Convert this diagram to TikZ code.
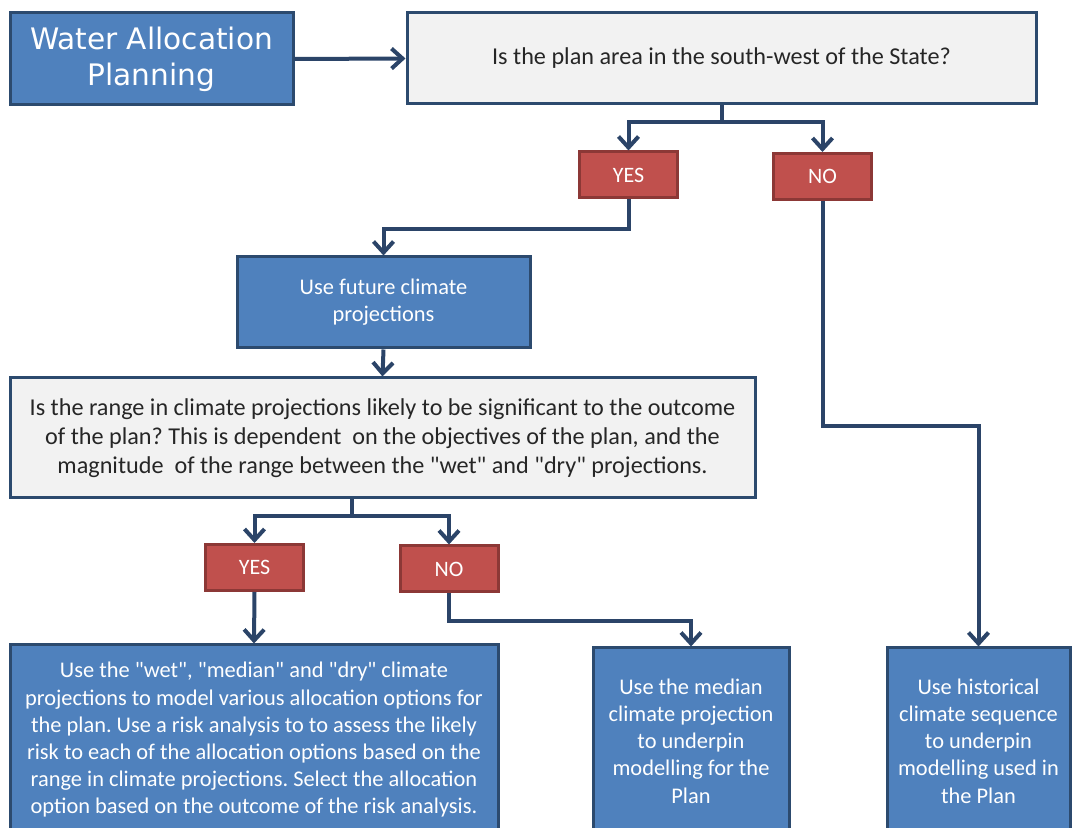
\documentclass[tikz,border=0pt]{standalone}
\usepackage{fontspec}
\setmainfont{Carlito}[Ligatures=TeXOff]
\newfontfamily\titlefont{DejaVu Sans}
\usepackage{tikz}
\usetikzlibrary{arrows.meta,positioning,calc}
\definecolor{bl60}{HTML}{4F81BD}
\definecolor{bl90}{HTML}{2C4A6E}
\definecolor{rd60}{HTML}{C0504D}
\definecolor{rd90}{HTML}{8C3836}
\definecolor{gy05}{HTML}{F2F2F2}
\definecolor{lnk}{HTML}{2B4468}
\frenchspacing

\begin{document}
\begin{tikzpicture}[x=0.5pt,y=-0.5pt,
    every node/.style={inner sep=0pt, align=center},
    bluebox/.style={rectangle, draw=bl90, fill=bl60, line width=1.5pt,
                    text=white, font=\fontsize{11.2}{13.6}\selectfont},
    askbox/.style={rectangle, draw=bl90, fill=gy05, line width=1.5pt,
                   text=black!85, font=\fontsize{12.1}{14.5}\selectfont},
    answer/.style={rectangle, draw=rd90, fill=rd60, line width=1.5pt,
                   text=white, font=\fontsize{11}{12}\selectfont,
                   minimum width=49pt, minimum height=23pt},
    link/.style={draw=lnk, line width=2pt,
                 -{Straight Barb[length=5.5pt,width=10pt,line width=2pt]}},
    wire/.style={draw=lnk, line width=2pt}]
  \useasboundingbox (0,0) rectangle (1072,828);
  \clip (0,0) rectangle (1072,828);

  % top row
  \node[bluebox, minimum width=141.5pt, minimum height=46pt,
        font=\titlefont\fontsize{14.8}{18}\selectfont] (title) at (151.5,59)
        {Water Allocation\\Planning};
  \node[askbox, minimum width=314.5pt, minimum height=45.5pt] (q1) at (721.5,58.5)
        {Is the plan area in the south-west of the State?};

  % first answers
  \node[answer] (yes1) at (628.5,175) {YES};
  \node[answer] (no1) at (822.5,176.5) {NO};

  \node[bluebox, minimum width=146.5pt, minimum height=45.5pt] (future) at (383.5,302.5)
        {Use future climate\\projections};

  \node[askbox, minimum width=372.5pt, minimum height=60pt] (q2) at (382.5,438)
        {Is the range in climate projections likely to be significant to the outcome\\
         of the plan? This is dependent\ \ on the objectives of the plan, and the\\
         magnitude\ \ of the range between the "wet" and "dry" projections.};

  % second answers
  \node[answer] (yes2) at (254.5,567.5) {YES};
  \node[answer] (no2) at (449,569) {NO};

  % outcomes
  \node[bluebox, minimum width=244pt, minimum height=95pt] (ranged) at (254,740)
        {Use the "wet", "median" and "dry" climate\\
         projections to model various allocation options for\\
         the plan. Use a risk analysis to to assess the likely\\
         risk to each of the allocation options based on the\\
         range in climate projections. Select the allocation\\
         option based on the outcome of the risk analysis.};
  \node[bluebox, minimum width=98pt, minimum height=93pt] (median) at (691,741)
        {Use the median\\climate projection\\to underpin\\modelling for the\\Plan};
  \node[bluebox, minimum width=91.5pt, minimum height=93pt] (hist) at (978.5,741)
        {Use historical\\climate sequence\\to underpin\\modelling used in\\the Plan};

  % connectors
  \draw[link] (title.east) -- (q1.west);
  \coordinate (fork1) at (721.5,122);
  \draw[wire] (q1.south) -- (fork1);
  \draw[link] (fork1) -| (yes1.north);
  \draw[link] (fork1) -| (no1.north);
  \draw[link] (yes1.south) -- ++(0,30) -| (future.north);
  \draw[link] (future.south) -- (q2.north);
  \coordinate (fork2) at (352,516);
  \draw[wire] (fork2 |- q2.south) -- (fork2);
  \draw[link] (fork2) -| (yes2.north);
  \draw[link] (fork2) -| (no2.north);
  \draw[link] (yes2.south) -- (ranged.north);
  \draw[link] (no2.south) -- ++(0,28) -| (median.north);
  \draw[link] (no1.south) -- ++(0,225) -| (hist.north);
\end{tikzpicture}
\end{document}
